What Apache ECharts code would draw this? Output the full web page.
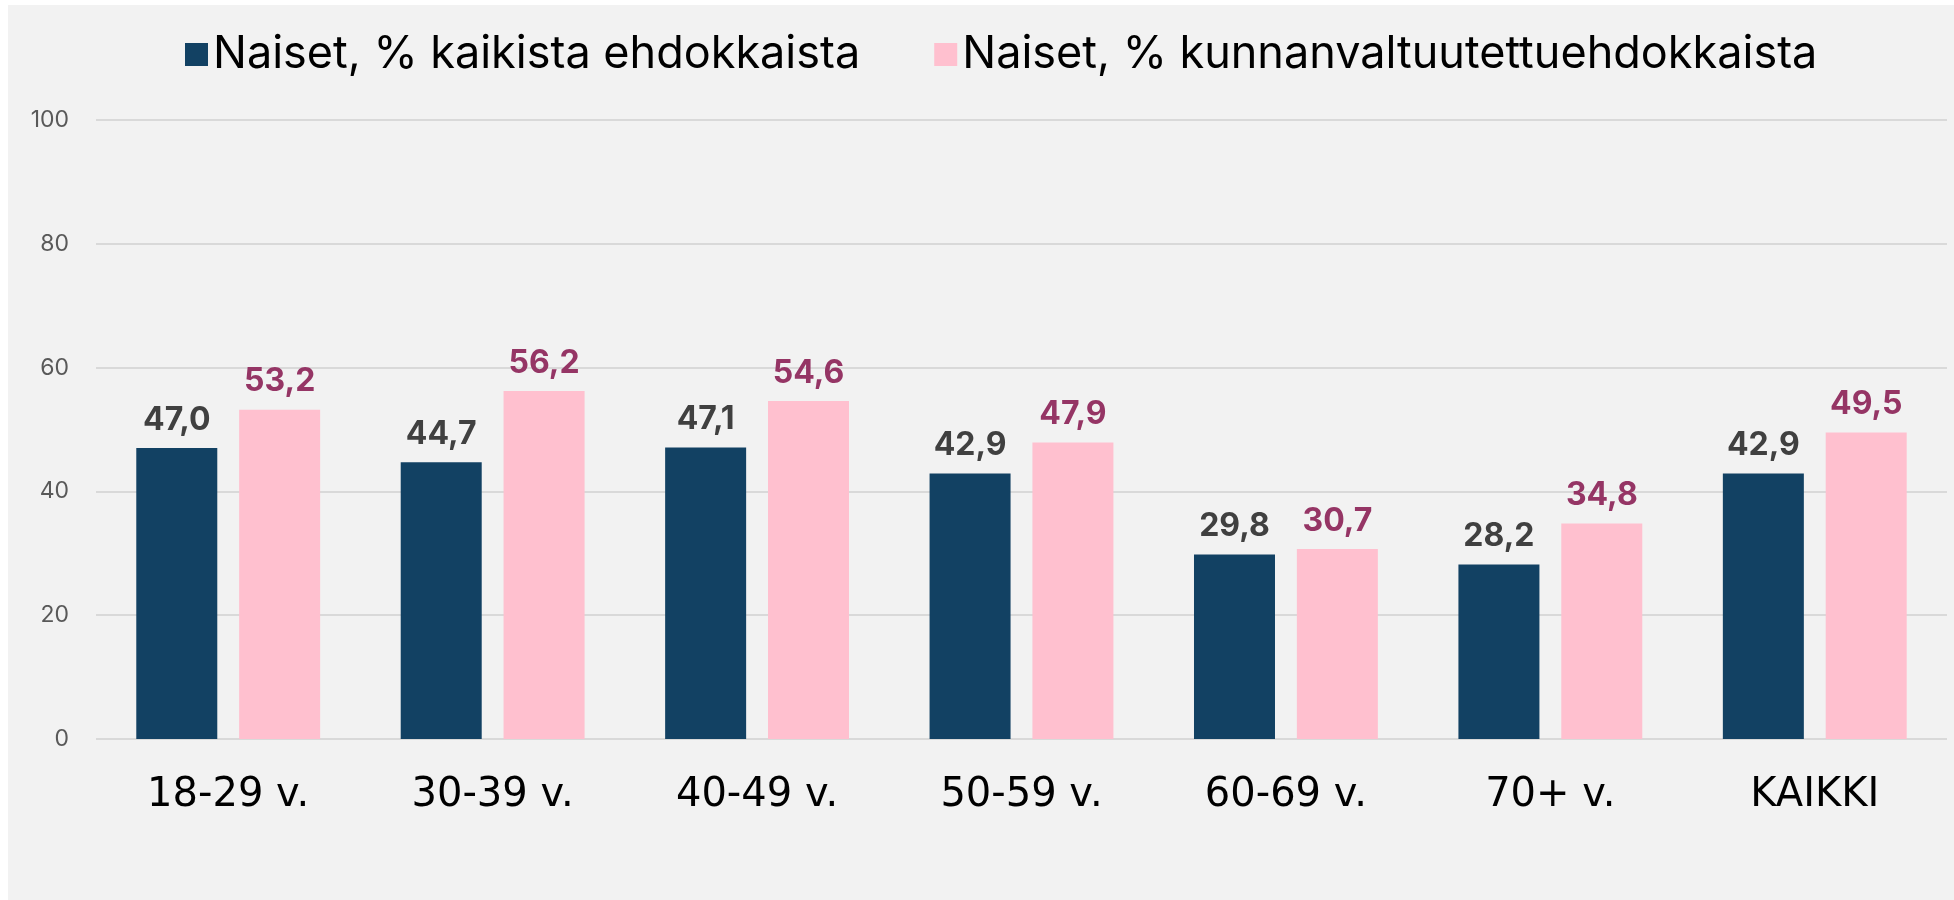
<!DOCTYPE html>
<html>
<head>
<meta charset="utf-8">
<script src="https://cdn.jsdelivr.net/npm/echarts@6/dist/echarts.min.js"></script>
<style>
html,body{margin:0;padding:0;background:#ffffff;width:1954px;height:900px;overflow:hidden;}
#c{position:absolute;left:8px;top:5px;width:1946px;height:895px;}
</style>
</head>
<body>
<div id="c"></div>
<script>
const categories = ['18-29 v.', '30-39 v.', '40-49 v.', '50-59 v.', '60-69 v.', '70+ v.', 'KAIKKI'];
const seriesNames = ['Naiset, % kaikista ehdokkaista', 'Naiset, % kunnanvaltuutettuehdokkaista'];
const allCandidates = [47.0, 44.7, 47.1, 42.9, 29.8, 28.2, 42.9];
const councilCandidates = [53.2, 56.2, 54.6, 47.9, 30.7, 34.8, 49.5];
const yTicks = [0, 20, 40, 60, 80, 100];

const FONT = 'Inter, Roboto, sans-serif';
const fmt = p => p.value.toFixed(1).replace('.', ',');

const chart = echarts.init(document.getElementById('c'), null, {renderer: 'canvas'});
chart.setOption({
  backgroundColor: '#f2f2f2',
  animation: false,
  textStyle: {fontFamily: FONT},
  legend: {
    left: 172, top: 22,
    itemWidth: 23, itemHeight: 23, itemGap: 74,
    icon: 'rect',
    textStyle: {fontSize: 45, color: '#000000', fontFamily: FONT},
    data: seriesNames
  },
  grid: {left: 88, right: 7, top: 115, bottom: 161, containLabel: false},
  xAxis: {
    type: 'category',
    data: categories,
    axisLine: {show: false},
    axisTick: {show: false},
    axisLabel: {fontSize: 40, color: '#000000', margin: 37, fontFamily: '"DejaVu Sans", sans-serif'}
  },
  yAxis: {
    type: 'value',
    min: yTicks[0], max: yTicks[yTicks.length - 1], interval: 20,
    axisLine: {show: false},
    axisTick: {show: false},
    axisLabel: {fontSize: 23, color: '#595959', margin: 27, fontFamily: FONT},
    splitLine: {lineStyle: {color: '#d9d9d9', width: 2}}
  },
  series: [
    {
      name: seriesNames[0], type: 'bar', data: allCandidates,
      barWidth: 81, barGap: '27%',
      itemStyle: {color: '#124163'},
      label: {show: true, position: 'top', distance: 12, formatter: fmt,
        fontSize: 32, fontWeight: 'bold', color: '#404040', fontFamily: FONT}
    },
    {
      name: seriesNames[1], type: 'bar', data: councilCandidates,
      barWidth: 81,
      itemStyle: {color: '#ffc0cf'},
      label: {show: true, position: 'top', distance: 12, formatter: fmt,
        fontSize: 32, fontWeight: 'bold', color: '#953565', fontFamily: FONT}
    }
  ]
});
</script>
</body>
</html>
